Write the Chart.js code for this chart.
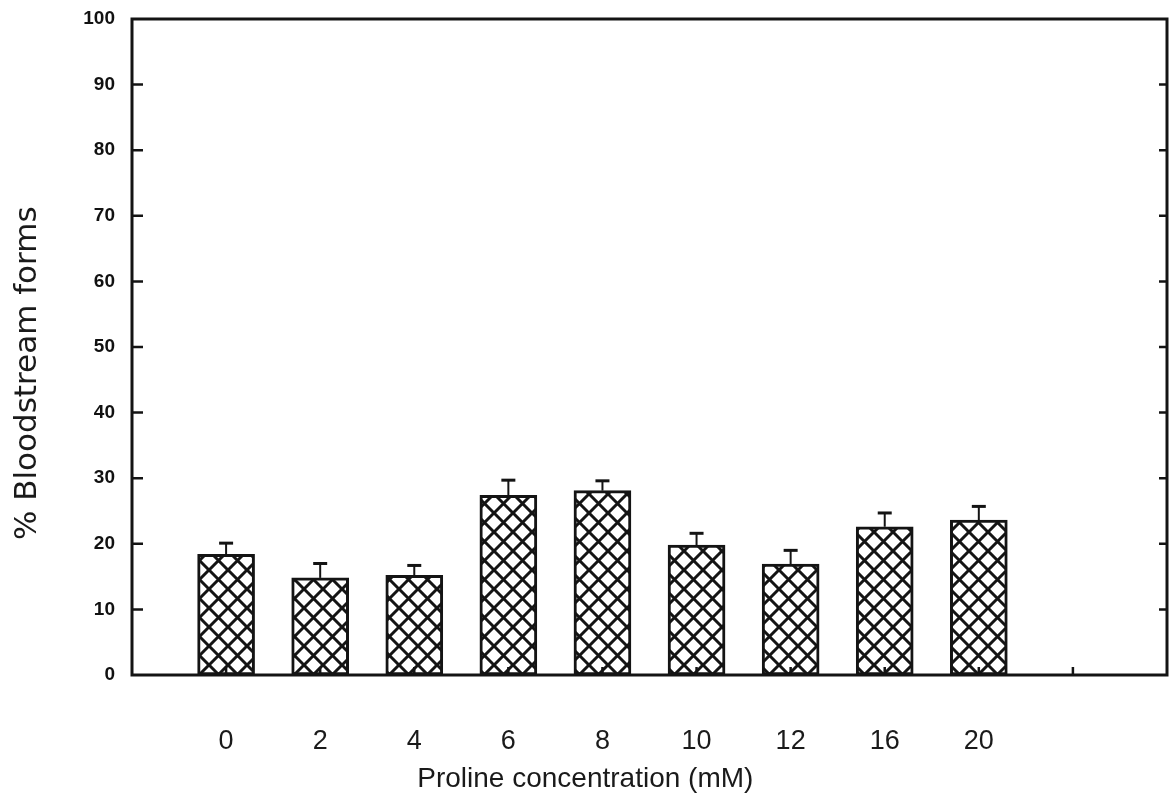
<!DOCTYPE html>
<html>
<head>
<meta charset="utf-8">
<title>Proline concentration and bloodstream forms</title>
<script src="https://cdn.jsdelivr.net/npm/chart.js@4.4.1/dist/chart.umd.min.js"></script>
<style>
  html, body { margin: 0; padding: 0; background: #ffffff; }
  #wrap { width: 1170px; height: 807px; position: relative; }
</style>
</head>
<body>
<div id="wrap"><canvas id="chart" width="1170" height="807"></canvas></div>
<script>
// Concentration groups (mM) and measured values
const concentrations = ['0', '2', '4', '6', '8', '10', '12', '16', '20'];
const bloodstreamPct = [18.4, 14.8, 15.2, 27.4, 28.1, 19.8, 16.9, 22.6, 23.6];
const upperError = [1.7, 2.2, 1.5, 2.3, 1.5, 1.8, 2.1, 2.1, 2.1];
const yMin = 0, yMax = 100, yStep = 10;
const xMin = 0, xMax = 11;
const xTitle = 'Proline concentration (mM)';
const yTitle = '% Bloodstream forms';

const INK = '#141414';

// Cross-hatch fill for the bars
function makeHatch() {
  const s = 19;
  const c = document.createElement('canvas');
  c.width = s; c.height = s;
  const g = c.getContext('2d');
  g.fillStyle = '#ffffff';
  g.fillRect(0, 0, s, s);
  g.strokeStyle = INK;
  g.lineWidth = 3;
  g.beginPath();
  g.moveTo(-2, -2); g.lineTo(s + 2, s + 2);
  g.moveTo(s + 2, -2); g.lineTo(-2, s + 2);
  g.stroke();
  return g.createPattern(c, 'repeat');
}

// Upper error bars on each bar
const errorBars = {
  id: 'errorBars',
  afterDatasetsDraw(chart) {
    const ctx = chart.ctx;
    const y = chart.scales.y;
    const meta = chart.getDatasetMeta(0);
    ctx.save();
    ctx.strokeStyle = INK;
    meta.data.forEach((bar, i) => {
      const top = y.getPixelForValue(bloodstreamPct[i]);
      const cap = y.getPixelForValue(bloodstreamPct[i] + upperError[i]);
      ctx.lineWidth = 2;
      ctx.beginPath();
      ctx.moveTo(bar.x, top);
      ctx.lineTo(bar.x, cap);
      ctx.stroke();
      ctx.lineWidth = 3;
      ctx.beginPath();
      ctx.moveTo(bar.x - 7, cap);
      ctx.lineTo(bar.x + 7, cap);
      ctx.stroke();
    });
    ctx.restore();
  }
};

// Boxed frame with inward tick marks
const frame = {
  id: 'frame',
  afterDatasetsDraw(chart) {
    const { ctx, chartArea: a, scales } = chart;
    ctx.save();
    ctx.strokeStyle = INK;
    ctx.lineWidth = 3;
    ctx.strokeRect(a.left, a.top, a.right - a.left, a.bottom - a.top);
    ctx.lineWidth = 2.5;
    ctx.beginPath();
    scales.y.ticks.forEach(t => {
      const py = scales.y.getPixelForValue(t.value);
      if (t.value === yMin || t.value === yMax) return;
      ctx.moveTo(a.left, py); ctx.lineTo(a.left + 11, py);
      ctx.moveTo(a.right, py); ctx.lineTo(a.right - 8, py);
    });
    scales.x.ticks.forEach(t => {
      if (t.value <= xMin || t.value >= xMax) return;
      const px = scales.x.getPixelForValue(t.value);
      ctx.moveTo(px, a.bottom); ctx.lineTo(px, a.bottom - 8);
    });
    ctx.stroke();
    ctx.restore();
  }
};

// Axis titles
const axisTitles = {
  id: 'axisTitles',
  afterDraw(chart) {
    const { ctx, chartArea: a } = chart;
    ctx.save();
    ctx.fillStyle = '#1a1a1a';
    ctx.textAlign = 'center';
    ctx.textBaseline = 'middle';
    ctx.font = '28px "Liberation Sans", Arial, sans-serif';
    ctx.fillText(xTitle, a.left + (a.right - a.left) * 0.438, a.bottom + 104);
    ctx.translate(28, a.top + (a.bottom - a.top) * 0.54);
    ctx.rotate(-Math.PI / 2);
    ctx.font = '31px "DejaVu Sans", sans-serif';
    ctx.fillText(yTitle, 0, 0);
    ctx.restore();
  }
};

const ctx = document.getElementById('chart').getContext('2d');
new Chart(ctx, {
  type: 'bar',
  data: {
    datasets: [{
      data: bloodstreamPct.map((v, i) => ({ x: i + 1, y: v })),
      backgroundColor: makeHatch(),
      borderColor: INK,
      borderWidth: 3,
      borderSkipped: false,
      barThickness: 57
    }]
  },
  options: {
    responsive: false,
    animation: false,
    devicePixelRatio: 1,
    layout: { padding: { left: 0, top: 19, right: 3, bottom: 0 } },
    plugins: { legend: { display: false }, tooltip: { enabled: false } },
    scales: {
      x: {
        type: 'linear',
        min: xMin, max: xMax,
        offset: false,
        grid: { display: false, drawTicks: false, offset: false },
        border: { display: false },
        afterFit: s => { s.height = 132; s.paddingLeft = 0; s.paddingRight = 0; },
        ticks: {
          stepSize: 1,
          autoSkip: false,
          maxRotation: 0,
          padding: 50,
          color: '#1a1a1a',
          font: { family: '"Liberation Sans", Arial, sans-serif', size: 27 },
          callback: v => (v >= 1 && v <= concentrations.length) ? concentrations[v - 1] : ''
        }
      },
      y: {
        min: yMin, max: yMax,
        grid: { display: false, drawTicks: false },
        border: { display: false },
        afterFit: s => { s.width = 132; s.paddingTop = 0; s.paddingBottom = 0; },
        ticks: {
          stepSize: yStep,
          padding: 17,
          color: '#111111',
          font: { family: '"Liberation Sans", Arial, sans-serif', size: 19, weight: 'bold' }
        }
      }
    }
  },
  plugins: [errorBars, frame, axisTitles]
});
</script>
</body>
</html>
